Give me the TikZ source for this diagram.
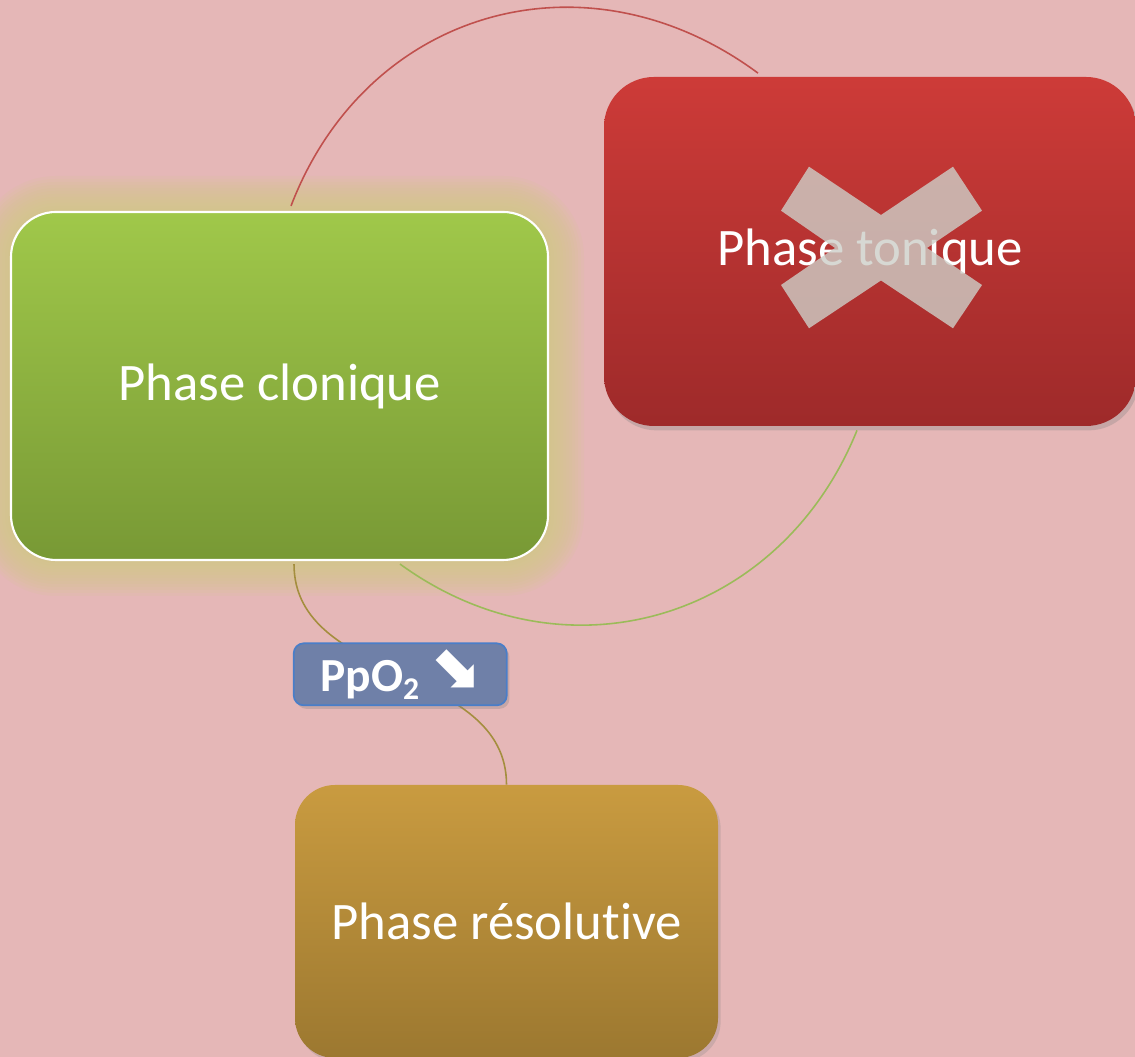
\documentclass[tikz,border=0pt]{standalone}
\usepackage{fontspec}
\setmainfont{Carlito}[Ligatures=NoCommon]
\newfontfamily\symf{DejaVu Sans}
\usetikzlibrary{positioning,shadows}
\definecolor{bgpink}{HTML}{E5B7B7}
\definecolor{glowc}{HTML}{D2CC84}
\definecolor{grtop}{HTML}{A0C84A}
\definecolor{grbot}{HTML}{789935}
\definecolor{rdtop}{HTML}{CD3B38}
\definecolor{rdbot}{HTML}{9E2A2A}
\definecolor{gdtop}{HTML}{C99B40}
\definecolor{gdbot}{HTML}{9C7830}
\definecolor{ppofill}{HTML}{6F80A8}
\definecolor{ppoline}{HTML}{4A7EC8}
\definecolor{arcred}{HTML}{C0504D}
\definecolor{arcgreen}{HTML}{9BBB59}
\definecolor{arcolive}{HTML}{A48E3E}
\definecolor{xgrey}{HTML}{CECFC8}

\begin{document}
\begin{tikzpicture}[x=0.2mm,y=0.2mm,
 phase/.style={align=center,text=white,inner sep=0pt,font=\fontsize{30}{36}\selectfont},
 ppo/.style={fill=ppofill,draw=ppoline,line width=1pt,rounded corners=2mm,minimum width=42.6mm,minimum height=12.4mm,inner sep=0pt,text=white,font=\bfseries\fontsize{27}{30}\selectfont,drop shadow={shadow xshift=1.5pt,shadow yshift=-2pt,opacity=0.3}},
 lnk/.style={line width=0.9pt}]
\clip (0,0) rectangle (1135,1057);
\fill[bgpink] (0,0) rectangle (1135,1057);
% halo autour de la phase clonique
\foreach \g in {1,...,12}
  \fill[glowc,opacity=0.11,rounded corners=9mm+\g*0.6mm] ({11-3*\g},{497-3*\g}) rectangle ({548+3*\g},{845+3*\g});
\node[phase,minimum width=107.4mm,minimum height=69.6mm,rounded corners=9mm,top color=grtop,bottom color=grbot,draw=white,line width=1.2pt] (clon) at (279.5,671) {Phase clonique};
\node[phase,minimum width=106.4mm,minimum height=69.8mm,rounded corners=10mm,top color=rdtop,bottom color=rdbot,drop shadow={shadow xshift=1.5pt,shadow yshift=-2.5pt,opacity=0.3}] (ton) at (870,805.5) {Phase tonique};
\node[phase,minimum width=84.6mm,minimum height=54.6mm,rounded corners=8mm,top color=gdtop,bottom color=gdbot,drop shadow={shadow xshift=1.5pt,shadow yshift=-2pt,opacity=0.25}] (res) at (506.5,135.5) {Phase résolutive};
% croix sur la phase tonique
\fill[xgrey,opacity=0.8] (809,890.3) -- (881,842) -- (953,890.3) -- (982,846.3) -- (927,809) -- (982,772) -- (953,728.7) -- (881,776.5) -- (809,728.7) -- (781,772) -- (835,809) -- (781,846.3) -- cycle;
% liens
\draw[lnk,arcred] ([shift={(11.5,5)}]clon.north) to[out=69,in=143.5,looseness=1.12] ([shift={(-112,3.5)}]ton.north);
\draw[lnk,arcgreen] ([shift={(-13,-4)}]ton.south) to[out=-112,in=-36,looseness=1.1] ([shift={(120.5,-3)}]clon.south);
\draw[lnk,arcolive] ([shift={(14.5,-3)}]clon.south) to[out=-90,in=90] node[ppo,pos=0.5] (ppo) {PpO\raisebox{-0.35ex}{\fontsize{18}{18}\selectfont 2}\hspace{0.2em}{\symf\fontsize{35}{35}\selectfont\raisebox{0.15ex}{⬊}}} (res.north);
\end{tikzpicture}
\end{document}
